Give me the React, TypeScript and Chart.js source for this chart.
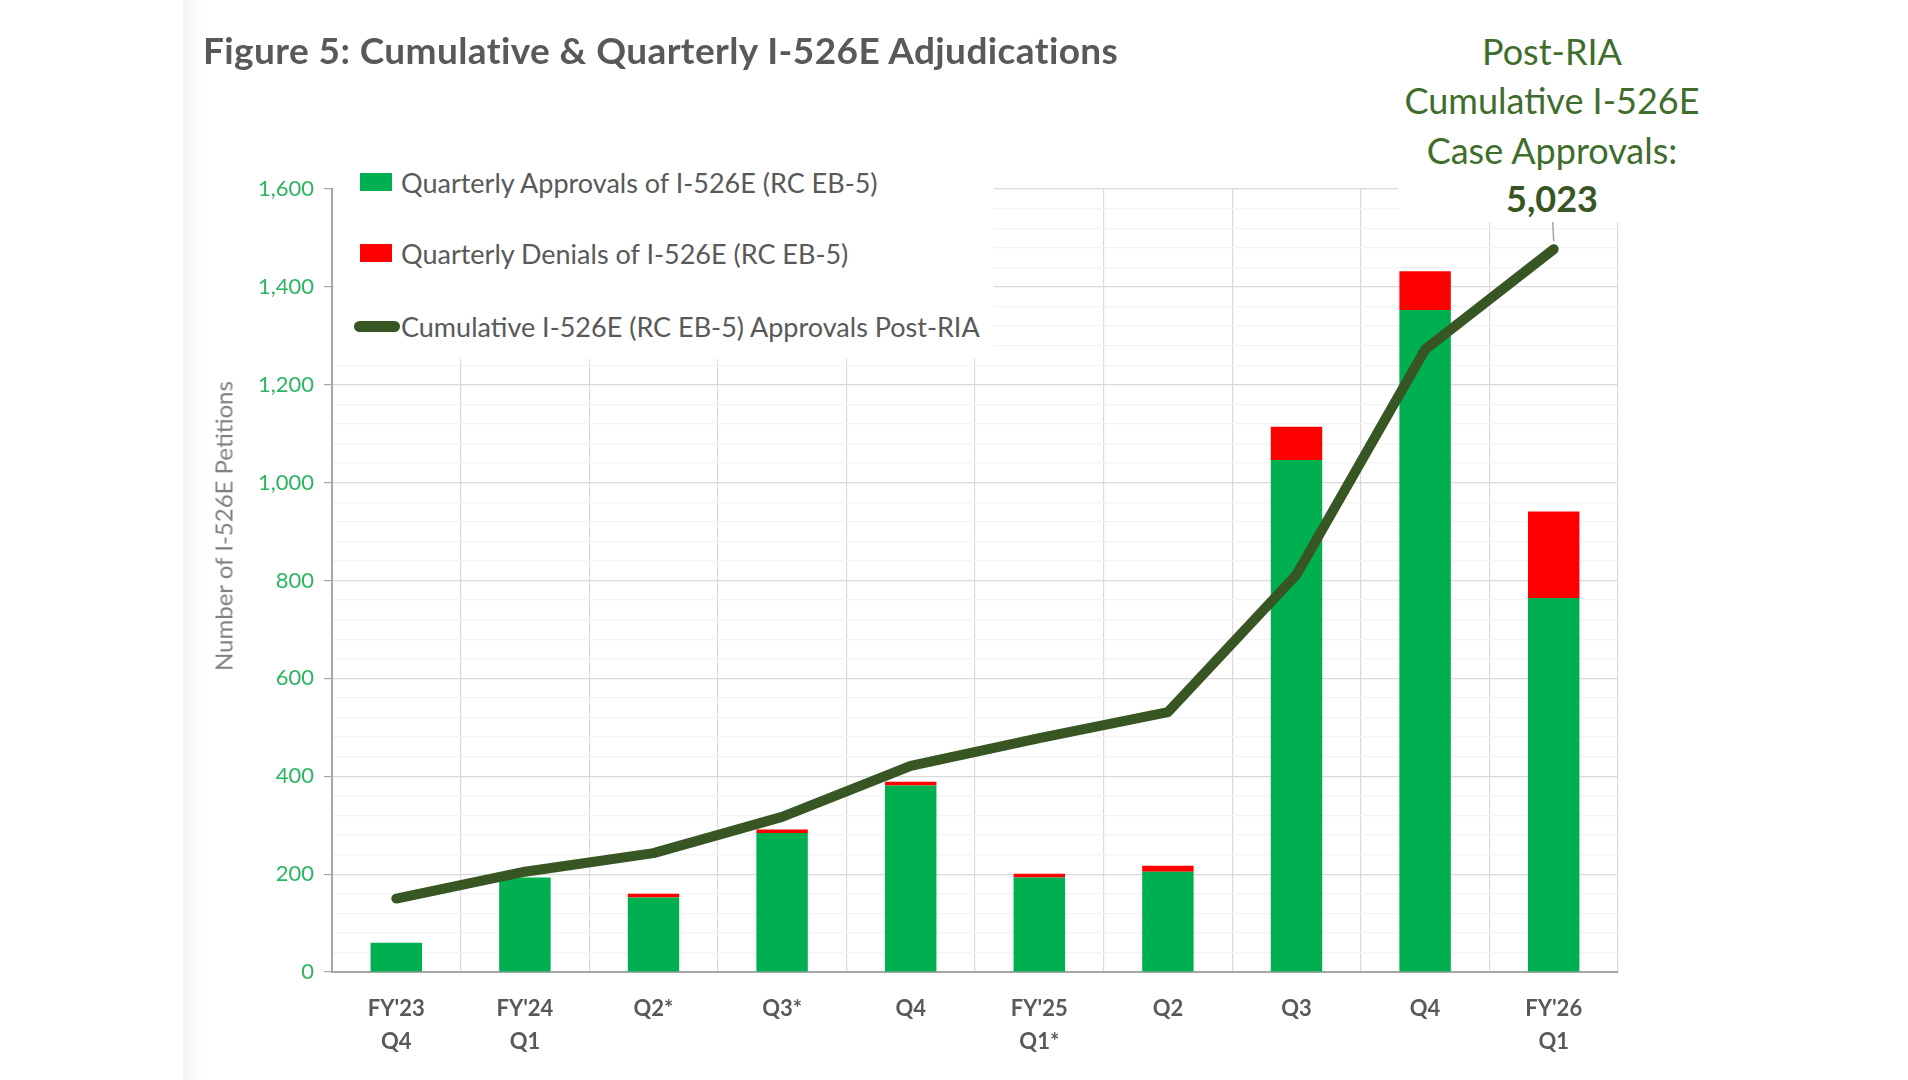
import React, { useEffect, useRef } from "react";
import { Chart, registerables } from "chart.js";

Chart.register(...registerables);

const categories: string[][] = [
  ["FY'23", "Q4"],
  ["FY'24", "Q1"],
  ["Q2*"],
  ["Q3*"],
  ["Q4"],
  ["FY'25", "Q1*"],
  ["Q2"],
  ["Q3"],
  ["Q4"],
  ["FY'26", "Q1"],
];
const approvals = [60, 193, 152, 284, 381, 193, 205, 1046, 1353, 764];
const denials = [0, 0, 8, 7, 8, 8, 12, 68, 79, 177];
const cumulative = [150, 205, 243, 317, 421, 478, 531, 812, 1272, 1477];
const yMax = 1600;
const yStep = 40;
const yLabelStep = 200;

const FONT = "Lato, 'Open Sans', sans-serif";

const connectorPlugin = {
  id: "connector",
  afterDatasetsDraw(chart: any) {
    const meta = chart.getDatasetMeta(2);
    const pts = meta.data;
    if (!pts || !pts.length) return;
    const p = pts[pts.length - 1];
    const ctx = chart.ctx;
    ctx.save();
    ctx.strokeStyle = "#a6a6a6";
    ctx.lineWidth = 1.5;
    ctx.beginPath();
    ctx.moveTo(p.x, p.y - 8);
    ctx.lineTo(p.x - 1, 222);
    ctx.stroke();
    ctx.restore();
  },
};

export default function App() {
  const ref = useRef<HTMLCanvasElement | null>(null);

  useEffect(() => {
    if (!ref.current) return;
    const chart = new Chart(ref.current, {
      type: "bar",
      data: {
        labels: categories,
        datasets: [
          {
            type: "bar",
            label: "Quarterly Approvals of I-526E (RC EB-5)",
            data: approvals,
            backgroundColor: "#00B050",
            borderWidth: 0,
            barPercentage: 0.4,
            categoryPercentage: 1,
            stack: "bars",
            order: 1,
          },
          {
            type: "bar",
            label: "Quarterly Denials of I-526E (RC EB-5)",
            data: denials,
            backgroundColor: "#FF0000",
            borderWidth: 0,
            barPercentage: 0.4,
            categoryPercentage: 1,
            stack: "bars",
            order: 1,
          },
          {
            type: "line",
            label: "Cumulative I-526E (RC EB-5) Approvals Post-RIA",
            data: cumulative,
            borderColor: "#375623",
            backgroundColor: "#375623",
            borderWidth: 10,
            pointRadius: 0,
            tension: 0,
            borderCapStyle: "round",
            borderJoinStyle: "round",
            stack: "line",
            order: 0,
          } as any,
        ],
      },
      options: {
        responsive: false,
        animation: false,
        devicePixelRatio: 1,
        layout: { padding: { left: 0, right: 290, top: 189, bottom: 0 } },
        plugins: {
          legend: { display: false },
          tooltip: { enabled: false },
          title: { display: false },
        },
        scales: {
          x: {
            stacked: true,
            offset: true,
            grid: {
              offset: true,
              color: "#d9d9d9",
              lineWidth: 1.2,
              drawTicks: false,
            },
            border: { color: "#a6a6a6", width: 2 },
            ticks: {
              color: "#595959",
              font: { family: FONT, size: 22, weight: "bold", lineHeight: 1.5 },
              padding: 20,
              maxRotation: 0,
              autoSkip: false,
            },
            afterFit: (scale: any) => {
              scale.height = 108;
            },
          },
          y: {
            stacked: true,
            min: 0,
            max: yMax,
            grid: {
              color: (c: any) => (c.tick && c.tick.value % yLabelStep === 0 ? "#d9d9d9" : "#f3f3f3"),
              tickColor: (c: any) => (c.tick && c.tick.value % yLabelStep === 0 ? "#a6a6a6" : "rgba(0,0,0,0)"),
              lineWidth: 1.2,
              tickLength: 8,
            },
            border: { color: "#a6a6a6", width: 2 },
            ticks: {
              stepSize: yStep,
              autoSkip: false,
              color: "#2bb563",
              padding: 10,
              font: { family: FONT, size: 22 },
              callback: (v: any) => (Number(v) % yLabelStep === 0 ? Number(v).toLocaleString("en-US") : ""),
            },
            afterFit: (scale: any) => {
              scale.width = 332;
            },
          },
        },
      } as any,
      plugins: [connectorPlugin],
    });
    return () => chart.destroy();
  }, []);

  const legendText: React.CSSProperties = {
    position: "absolute",
    left: 401,
    fontFamily: FONT,
    fontSize: 27,
    color: "#595959",
    whiteSpace: "nowrap",
    transform: "translateY(-50%)",
  };
  const annot: React.CSSProperties = {
    position: "absolute",
    left: 1552,
    transform: "translate(-50%, -50%)",
    fontFamily: FONT,
    fontSize: 36,
    color: "#3f6d2c",
    whiteSpace: "nowrap",
  };

  return (
    <div style={{ position: "fixed", left: 0, top: 0, width: 1908, height: 1080, background: "#ffffff", overflow: "hidden" }}>
      <div style={{ position: "absolute", left: 183, top: 0, width: 18, height: 1080, background: "linear-gradient(to right, #f5f5f5, #fdfdfd)" }} />
      <canvas ref={ref} width={1908} height={1080} style={{ position: "absolute", left: 0, top: 0 }} />
      <div
        style={{
          position: "absolute",
          left: 203,
          top: 49,
          transform: "translateY(-50%)",
          fontFamily: FONT,
          fontWeight: "bold",
          fontSize: 37,
          letterSpacing: 0.4,
          color: "#595959",
          whiteSpace: "nowrap",
        }}
      >
        Figure 5: Cumulative &amp; Quarterly I-526E Adjudications
      </div>
      <div
        style={{
          position: "absolute",
          left: 223,
          top: 526,
          transform: "translate(-50%, -50%) rotate(-90deg)",
          fontFamily: FONT,
          fontSize: 24,
          color: "#7f7f7f",
          whiteSpace: "nowrap",
        }}
      >
        Number of I-526E Petitions
      </div>
      {/* legend */}
      <div style={{ position: "absolute", left: 334, top: 150, width: 660, height: 209, background: "#ffffff" }} />
      <div style={{ position: "absolute", left: 360, top: 173, width: 32, height: 18, background: "#00B050" }} />
      <div style={{ ...legendText, top: 182 }}>Quarterly Approvals of I-526E (RC EB-5)</div>
      <div style={{ position: "absolute", left: 360, top: 244, width: 32, height: 18, background: "#FF0000" }} />
      <div style={{ ...legendText, top: 253 }}>Quarterly Denials of I-526E (RC EB-5)</div>
      <div style={{ position: "absolute", left: 354, top: 321, width: 46, height: 11, borderRadius: 6, background: "#375623" }} />
      <div style={{ ...legendText, top: 326 }}>Cumulative I-526E (RC EB-5) Approvals Post-RIA</div>
      {/* annotation */}
      <div style={{ position: "absolute", left: 1398, top: 0, width: 320, height: 222, background: "#ffffff" }} />
      <div style={{ ...annot, top: 51 }}>Post-RIA</div>
      <div style={{ ...annot, top: 100 }}>Cumulative I-526E</div>
      <div style={{ ...annot, top: 150 }}>Case Approvals:</div>
      <div style={{ ...annot, top: 198, fontWeight: "bold", color: "#375623" }}>5,023</div>
    </div>
  );
}
